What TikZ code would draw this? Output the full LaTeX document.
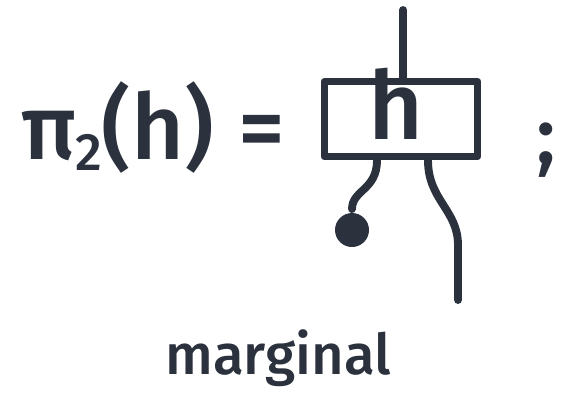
\documentclass[tikz,border=0pt]{standalone}
\usepackage{fontspec}
\setmainfont{Fira Sans Medium}
\usepackage{tikz}
\definecolor{ink}{HTML}{2B323E}

\begin{document}
\begin{tikzpicture}[x=0.02cm,y=-0.02cm,line width=4.5pt,line cap=round,color=ink]
        \useasboundingbox (0,0) rectangle (564,417);
        \node[draw,minimum width=153*0.02cm,minimum height=75*0.02cm,line join=round] (hbox) at (401,119) {};
        \node[font=\fontsize{54}{54}\selectfont] (hlabel) at (396,104) {h};
        \node[font=\fontsize{52}{52}\selectfont,anchor=west] (lhs) at (12,128)
            {π\kern-1pt\raisebox{-6pt}{\fontsize{30}{30}\selectfont 2}(h)\hspace{14pt}=};
        \node[font=\fontsize{46}{46}\selectfont] (semi) at (546,150) {;};
        \node[font=\fontsize{32}{32}\selectfont] (marg) at (278,358) {marginal};
        \coordinate (top) at (403,10);
        \coordinate (outr) at (458,300);
        \node[circle,fill,inner sep=0pt,minimum size=34*0.02cm] (dot) at (352,230) {};
        \draw (top) -- (hbox.north -| top);
        \draw (hbox.south -| 377,0) .. controls (377,190) and (352,190) .. (dot.north);
        \draw (hbox.south -| 428,0) .. controls (428,200) and (458,210) .. (458,245) -- (outr);
    \end{tikzpicture}
\end{document}
